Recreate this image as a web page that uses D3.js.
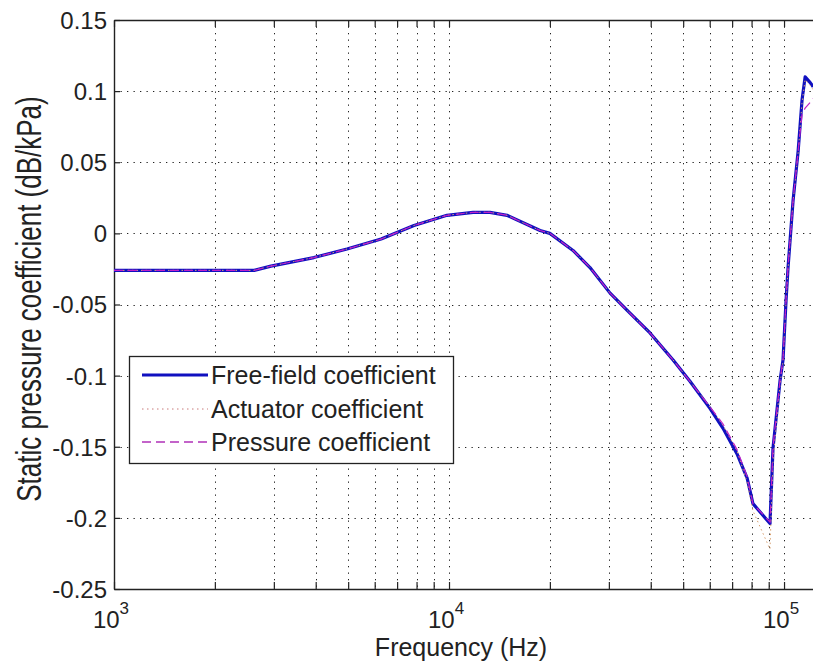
<!DOCTYPE html>
<html>
<head>
<meta charset="utf-8">
<script src="https://cdn.jsdelivr.net/npm/d3@7"></script>
<style>
  body { margin: 0; background: #fff; }
  text { font-family: "Liberation Sans", Arial, sans-serif; fill: #222; }
</style>
</head>
<body>
<div id="chart"></div>
<script>
// frequencies (Hz) and the three measured coefficients (dB/kPa)
var freqHz = [1000, 2000, 2620, 2940, 3950, 4960, 6270, 7860, 9860, 11800, 13250, 14900,
  18700, 20000, 23450, 26350, 30250, 33970, 39800, 46650, 52380, 60100, 65750, 72400,
  77600, 80760, 90800, 92700, 97300, 99300, 101400, 102800, 106400, 110200, 113200,
  115600, 119700, 122200];
var freeField = [-0.026, -0.026, -0.026, -0.023, -0.017, -0.011, -0.004, 0.0056, 0.0127, 0.0148, 0.0148, 0.0127,
  0.002, 0.0, -0.012, -0.024, -0.042, -0.054, -0.070, -0.089, -0.104, -0.123, -0.137, -0.155,
  -0.172, -0.190, -0.204, -0.151, -0.1035, -0.089, -0.047, -0.024, 0.023, 0.058, 0.094,
  0.110, 0.106, 0.103];
var actuator = [-0.026, -0.026, -0.026, -0.023, -0.017, -0.011, -0.004, 0.0056, 0.0127, 0.0148, 0.0148, 0.0127,
  0.002, 0.0, -0.012, -0.024, -0.042, -0.054, -0.070, -0.089, -0.104, -0.122, -0.135, -0.153,
  -0.175, -0.195, -0.222, -0.160, -0.106, -0.090, -0.048, -0.025, 0.022, 0.057, 0.092,
  0.108, 0.104, 0.101];
var pressure = [-0.026, -0.026, -0.026, -0.023, -0.017, -0.011, -0.004, 0.0056, 0.0127, 0.0148, 0.0148, 0.0127,
  0.002, 0.0, -0.012, -0.024, -0.042, -0.054, -0.070, -0.089, -0.104, -0.122, -0.134, -0.152,
  -0.171, -0.190, -0.203, -0.150, -0.103, -0.088, -0.046, -0.023, 0.023, 0.058, 0.084,
  0.088, 0.092, 0.095];

var yTicks = [-0.25, -0.2, -0.15, -0.1, -0.05, 0, 0.05, 0.1, 0.15];
var yTickLabels = ["-0.25", "-0.2", "-0.15", "-0.1", "-0.05", "0", "0.05", "0.1", "0.15"];
var xMajor = [1e3, 1e4, 1e5];
var xMajorExp = ["3", "4", "5"];
var xMinor = [2e3, 3e3, 4e3, 5e3, 6e3, 7e3, 8e3, 9e3, 2e4, 3e4, 4e4, 5e4, 6e4, 7e4, 8e4, 9e4];

var seriesNames = ["Free-field coefficient", "Actuator coefficient", "Pressure coefficient"];

var W = 813, H = 669;
var plotL = 114, plotT = 20, plotB = 589, plotR = 816.5;

var svg = d3.select("#chart").append("svg")
  .attr("width", W)
  .attr("height", H);

var x = d3.scaleLog().domain([1e3, 1.25e5]).range([plotL, plotR]);
var y = d3.scaleLinear().domain([-0.25, 0.15]).range([plotB, plotT]);

// grid
var grid = svg.append("g")
  .attr("stroke", "#222")
  .attr("stroke-width", 1)
  .attr("stroke-dasharray", "1.3,5.2");
grid.selectAll("line.gx")
  .data(xMinor.concat([1e4, 1e5]))
  .enter().append("line")
  .attr("x1", function(d) { return Math.round(x(d)) + 0.5; })
  .attr("x2", function(d) { return Math.round(x(d)) + 0.5; })
  .attr("y1", plotT).attr("y2", plotB);
grid.selectAll("line.gy")
  .data(yTicks.slice(1, -1))
  .enter().append("line")
  .attr("y1", function(d) { return Math.round(y(d)) + 0.5; })
  .attr("y2", function(d) { return Math.round(y(d)) + 0.5; })
  .attr("x1", plotL).attr("x2", W);

// axes
var allX = xMajor.concat(xMinor);
var bottomAxis = svg.append("g")
  .attr("transform", "translate(0," + plotB + ")")
  .call(d3.axisBottom(x).tickValues(allX).tickSizeInner(-7).tickSizeOuter(0).tickFormat(""));
var topAxis = svg.append("g")
  .attr("transform", "translate(0," + plotT + ")")
  .call(d3.axisTop(x).tickValues(allX).tickSizeInner(-7).tickSizeOuter(0).tickFormat(""));
var leftAxis = svg.append("g")
  .attr("transform", "translate(" + plotL + ",0)")
  .call(d3.axisLeft(y).tickValues(yTicks).tickSizeInner(-6).tickSizeOuter(0)
    .tickFormat(function(d, i) { return yTickLabels[i]; }));

[bottomAxis, topAxis, leftAxis].forEach(function(a) {
  a.select(".domain").attr("stroke", "#222").attr("stroke-width", 1.4);
  a.selectAll(".tick line").attr("stroke", "#222").attr("stroke-width", 1.2);
});
leftAxis.selectAll(".tick text")
  .attr("x", -7)
  .attr("dy", "0.35em")
  .style("font-size", "24px")
  .style("font-family", "'Liberation Sans', Arial, sans-serif")
  .style("fill", "#222");

// x tick labels 10^n
var xl = svg.append("g");
xMajor.forEach(function(v, i) {
  var t = xl.append("text")
    .attr("x", x(v) - 3)
    .attr("y", 628)
    .attr("text-anchor", "middle")
    .style("font-size", "24px");
  t.append("tspan").text("10");
  t.append("tspan").attr("dy", -14).style("font-size", "17px").text(xMajorExp[i]);
});

// axis titles
svg.append("text")
  .attr("x", 461)
  .attr("y", 656)
  .attr("text-anchor", "middle")
  .style("font-size", "25px")
  .text("Frequency (Hz)");
svg.append("text")
  .attr("transform", "translate(41,299) scale(1.35,1) rotate(-90)")
  .attr("text-anchor", "middle")
  .style("font-size", "26px")
  .text("Static pressure coefficient (dB/kPa)");

// curves
svg.append("clipPath").attr("id", "plotclip")
  .append("rect").attr("x", plotL).attr("y", plotT).attr("width", W - plotL).attr("height", plotB - plotT);

function lineFor(vals) {
  return d3.line()
    .x(function(d, i) { return x(freqHz[i]); })
    .y(function(d) { return y(d); })(vals);
}

var curves = svg.append("g").attr("clip-path", "url(#plotclip)").attr("fill", "none");
curves.append("path")
  .attr("d", lineFor(freeField))
  .attr("stroke", "#1010c0")
  .attr("stroke-width", 3.2)
  .attr("stroke-linejoin", "round");
curves.append("path")
  .attr("d", lineFor(actuator))
  .attr("stroke", "#d8a070")
  .attr("stroke-width", 1)
  .attr("stroke-dasharray", "1.5,3");
curves.append("path")
  .attr("d", lineFor(pressure))
  .attr("stroke", "#c020c8")
  .attr("stroke-width", 1.2)
  .attr("stroke-dasharray", "9,5");

// legend
var lg = svg.append("g");
lg.append("rect")
  .attr("x", 129.5).attr("y", 356.5)
  .attr("width", 324).attr("height", 107)
  .attr("fill", "#fff")
  .attr("stroke", "#222")
  .attr("stroke-width", 1.3);
var legendY = [375, 409, 442];
var legendStyle = [
  { stroke: "#1010c0", width: 3.2, dash: null },
  { stroke: "#c87878", width: 1, dash: "1.5,3.5" },
  { stroke: "#b030b8", width: 1.3, dash: "9,5" }
];
seriesNames.forEach(function(name, i) {
  lg.append("line")
    .attr("x1", 142).attr("x2", 208)
    .attr("y1", legendY[i]).attr("y2", legendY[i])
    .attr("stroke", legendStyle[i].stroke)
    .attr("stroke-width", legendStyle[i].width)
    .attr("stroke-dasharray", legendStyle[i].dash);
  lg.append("text")
    .attr("x", 211)
    .attr("y", legendY[i] + 9)
    .style("font-size", "25px")
    .text(name);
});
</script>
</body>
</html>
